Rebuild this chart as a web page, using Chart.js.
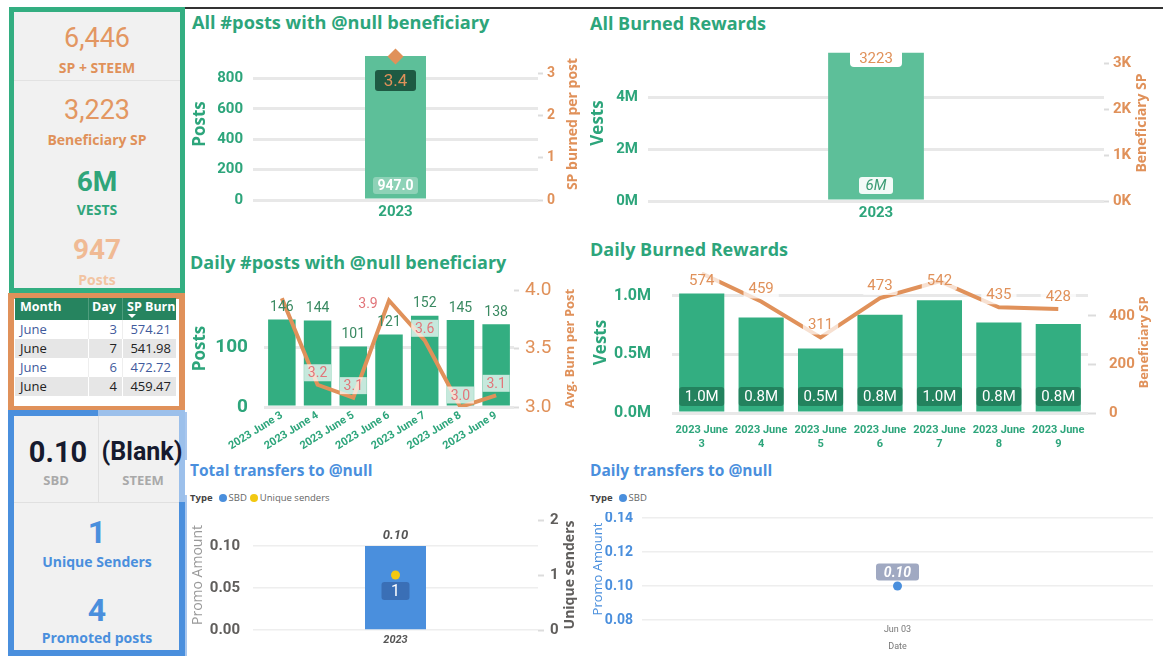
<!DOCTYPE html>
<html>
<head>
<meta charset="utf-8">
<script src="https://cdn.jsdelivr.net/npm/chart.js@4.4.1/dist/chart.umd.min.js"></script>
<style>
  body { margin: 0; width: 1163px; height: 668px; background: #fff; position: relative; overflow: hidden; font-family: "Open Sans", sans-serif; }
  .abs { position: absolute; }
  .title { position: absolute; font-weight: 700; white-space: nowrap; line-height: 24px; height: 24px; }
  .t { position: absolute; left: 14px; width: 166px; text-align: center; white-space: nowrap; }
  .num { font-family: Roboto, sans-serif; line-height: 32px; height: 32px; }
  .lab { font-weight: 700; font-size: 14px; line-height: 18px; height: 18px; }
  .cv { position: absolute; }
  .legend { position: absolute; font-size: 9.5px; color: #666; display: flex; align-items: center; line-height: 12px; }
  .legend b { color: #444; margin-right: 6px; }
  .dot { display: inline-block; width: 8px; height: 8px; border-radius: 50%; margin-right: 2px; }
  .row { position: absolute; left: 15px; width: 161px; height: 19px; font-size: 13px; line-height: 19px; }
  .row span, .hdr span { position: absolute; }
</style>
</head>
<body>
<div class="abs" style="left:185px;top:7px;width:978px;height:1.5px;background:#333"></div>
<div class="abs" style="left:185px;top:412px;width:2px;height:48px;background:#a9c7ee"></div>
<div class="abs" style="left:185px;top:495px;width:2px;height:161px;background:#a9c7ee"></div>

<!-- green KPI panel -->
<div class="abs" style="left:9px;top:7px;width:176px;height:286px;box-sizing:border-box;border:5px solid #33AE81;background:#f1f1f1"></div>
<div class="t num" style="top:22px;font-size:27px;color:#E39762">6,446</div>
<div class="t lab" style="top:59px;color:#E0915A">SP + STEEM</div>
<div class="abs" style="left:14px;top:80px;width:166px;height:1px;background:#e2e2e2"></div>
<div class="t num" style="top:94px;font-size:27px;color:#E39762">3,223</div>
<div class="t lab" style="top:131px;color:#E0915A">Beneficiary SP</div>
<div class="t num" style="top:166px;font-size:28px;font-weight:700;color:#2FA57A">6M</div>
<div class="t lab" style="top:201px;color:#2FA57A">VESTS</div>
<div class="t num" style="top:234px;font-size:28px;font-weight:700;color:#F0BA94">947</div>
<div class="t lab" style="top:271px;color:#F2C4A2">Posts</div>

<!-- orange table panel -->
<div class="abs" style="left:8px;top:293px;width:177px;height:119px;box-sizing:border-box;border:6px solid #E0915A;background:#fff"></div>
<div class="abs hdr" style="left:15px;top:298px;width:161px;height:22px;background:#26845F;color:#fff;font-weight:700;font-size:12.5px;line-height:18px">
  <span style="left:5px">Month</span>
  <span style="right:60px">Day</span>
  <span style="left:112px">SP Burn</span>
  <span style="left:73px;top:0;width:1px;height:22px;background:#4f9d7d"></span>
  <span style="left:107px;top:0;width:1px;height:22px;background:#4f9d7d"></span>
  <span style="left:113px;top:16px;width:0;height:0;border-left:4px solid transparent;border-right:4px solid transparent;border-top:4px solid #fff"></span>
</div>
<div id="tbl"></div>

<!-- blue transfer panel -->
<div class="abs" style="left:8px;top:410px;width:177px;height:246px;box-sizing:border-box;border:6px solid #4A8FDD;background:#f1f1f1"></div>
<div class="abs" style="left:98px;top:410px;width:87px;height:6px;background:#9CC0EB"></div>
<div class="abs" style="left:179px;top:416px;width:6px;height:86px;background:#9CC0EB"></div>
<div class="abs" style="left:98px;top:416px;width:1px;height:86px;background:#e0e0e0"></div>
<div class="abs" style="left:14px;top:502px;width:165px;height:1px;background:#e0e0e0"></div>
<div class="abs num" style="left:18px;width:80px;text-align:center;top:436px;font-size:29px;font-weight:700;color:#161A2E">0.10</div>
<div class="abs lab" style="left:14px;width:84px;text-align:center;top:471px;font-size:13px;color:#A9A9A9">SBD</div>
<div class="abs num" style="left:101px;width:82px;text-align:center;top:436px;font-size:25px;font-weight:700;color:#161A2E;white-space:nowrap">(Blank)</div>
<div class="abs lab" style="left:99px;width:88px;text-align:center;top:471px;font-size:13px;color:#A9A9A9">STEEM</div>
<div class="t num" style="top:515px;font-size:32px;height:34px;line-height:34px;font-weight:700;color:#4A8FDD">1</div>
<div class="t lab" style="top:553px;color:#4A8FDD">Unique Senders</div>
<div class="t num" style="top:593px;font-size:32px;height:34px;line-height:34px;font-weight:700;color:#4A8FDD">4</div>
<div class="t lab" style="top:629px;color:#4A8FDD">Promoted posts</div>

<!-- chart titles -->
<div class="title" style="left:192px;top:10px;font-size:18.2px;color:#2DA57B">All #posts with @null beneficiary</div>
<div class="title" style="left:590px;top:11px;font-size:18px;color:#2DA57B">All Burned Rewards</div>
<div class="title" style="left:190px;top:250px;font-size:18px;color:#2DA57B">Daily #posts with @null beneficiary</div>
<div class="title" style="left:590px;top:237px;font-size:18px;color:#2DA57B">Daily Burned Rewards</div>
<div class="title" style="left:190px;top:458px;font-size:15.5px;color:#4A8FDD">Total transfers to @null</div>
<div class="title" style="left:590px;top:458px;font-size:15.5px;color:#4A8FDD">Daily transfers to @null</div>

<div class="legend" style="left:190px;top:492px"><b>Type</b><span class="dot" style="background:#4A8FDD"></span>SBD<span class="dot" style="background:#F2C811;margin-left:3px"></span>Unique senders</div>
<div class="legend" style="left:590px;top:492px"><b>Type</b><span class="dot" style="background:#4A8FDD"></span>SBD</div>

<div class="cv" style="left:190px;top:40px;width:395px;height:190px"><canvas id="c1"></canvas></div>
<div class="cv" style="left:588px;top:40px;width:575px;height:190px"><canvas id="c2"></canvas></div>
<div class="cv" style="left:190px;top:282px;width:395px;height:180px"><canvas id="c3"></canvas></div>
<div class="cv" style="left:588px;top:262px;width:575px;height:198px"><canvas id="c4"></canvas></div>
<div class="cv" style="left:190px;top:512px;width:395px;height:145px"><canvas id="c5"></canvas></div>
<div class="cv" style="left:588px;top:512px;width:575px;height:140px"><canvas id="c6"></canvas></div>

<script>
// totals
const years = ["2023"];
const totalPosts = [947];
const totalBurnPerPost = [3.4];
const totalVests = [5.7e6];
const totalSP = [3223];

// daily
const days = [3, 4, 5, 6, 7, 8, 9];
const dailyPosts = [146, 144, 101, 121, 152, 145, 138];
const dailyAvgBurn = [3.93, 3.19, 3.08, 3.91, 3.57, 3.0, 3.1];
const dailyVests = [1.016e6, 0.812e6, 0.549e6, 0.837e6, 0.959e6, 0.77e6, 0.757e6];
const dailySP = [574, 459, 311, 473, 542, 435, 428];

// transfers
const promoSBD = [0.1];
const uniqueSenders = [1];
const transferDates = ["Jun 03"];
const dailyPromoSBD = [0.1];

// top days table
const tableMonth = ["June", "June", "June", "June"];
const tableDay = [3, 7, 6, 4];
const tableBurn = [574.21, 541.98, 472.72, 459.47];

// axis ticks
const postsTicks = [0, 200, 400, 600, 800];
const burnTicks = [0, 1, 2, 3];
const vestsTicks = [0, 2e6, 4e6];
const spTicks = [0, 1000, 2000, 3000];
const dailyPostsTicks = [0, 100];
const avgBurnTicks = [3, 3.5, 4];
const dailyVestsTicks = [0, 5e5, 1e6];
const dailySPTicks = [0, 200, 400];
const promoTicks = [0, 0.05, 0.1];
const senderTicks = [0, 1, 2];
const dailyPromoTicks = [0.08, 0.1, 0.12, 0.14];

const GREEN = "#33AE81";
const LIGHT = "#5DBF99";
const GTEXT = "#2DA57B";
const ORANGE = "#E0915A";
const BLUE = "#4A8FDD";
const GRID = "#e8e8e8";

// table rows
let html = "";
tableMonth.forEach((m, i) => {
  const odd = i % 2 === 0;
  html += `<div class="row" style="top:${320 + i * 19}px;background:${odd ? "#fff" : "#e6e6e6"};color:${odd ? "#3F5A9C" : "#222"}">
    <span style="left:5px">${m}</span><span style="right:59px">${tableDay[i]}</span><span style="right:5px">${tableBurn[i].toFixed(2)}</span>
    <span style="left:73px;top:0;width:1px;height:19px;background:${odd ? "#eee" : "#fff"}"></span>
    <span style="left:107px;top:0;width:1px;height:19px;background:${odd ? "#eee" : "#fff"}"></span></div>`;
});
document.getElementById("tbl").innerHTML = html;

Chart.defaults.font.family = "Roboto";

// draws value labels described by dataset.lbl
const valueLabels = {
  id: "valueLabels",
  afterDatasetsDraw(chart) {
    const ctx = chart.ctx;
    const area = chart.chartArea;
    chart.data.datasets.forEach((ds, di) => {
      const L = ds.lbl;
      if (!L) return;
      chart.getDatasetMeta(di).data.forEach((el, i) => {
        if (L.skip && L.skip.includes(i)) return;
        const text = L.fmt(ds.data[i]);
        ctx.save();
        ctx.font = L.font;
        let x = el.x;
        let y = (L.at === "base" ? el.base : el.y) + L.dy;
        if (L.minTop != null) y = Math.max(y, area.top + L.minTop);
        const sh = L.shift && L.shift[i];
        if (sh) { x += sh[0]; y += sh[1]; }
        if (L.bg) {
          const w = L.w === "bar" ? el.width : (L.w || ctx.measureText(text).width + 10);
          ctx.fillStyle = L.bg;
          ctx.beginPath();
          ctx.roundRect(x - w / 2, y - L.h / 2, w, L.h, L.r || 0);
          ctx.fill();
        }
        ctx.fillStyle = L.color;
        ctx.textAlign = "center";
        ctx.textBaseline = "middle";
        ctx.fillText(text, x, y + 1);
        ctx.restore();
      });
    });
  }
};

// right-hand axis title, read bottom to top
const sideTitle = {
  id: "sideTitle",
  afterDraw(chart, args, o) {
    if (!o.text) return;
    const ctx = chart.ctx;
    const a = chart.chartArea;
    ctx.save();
    ctx.translate(chart.width - o.right, (a.top + a.bottom) / 2);
    ctx.rotate(-Math.PI / 2);
    ctx.font = o.font;
    ctx.fillStyle = o.color;
    ctx.textAlign = "center";
    ctx.textBaseline = "middle";
    ctx.fillText(o.text, 0, 0);
    ctx.restore();
  }
};

function base(padTop, padRight, side) {
  return {
    responsive: true,
    maintainAspectRatio: false,
    animation: false,
    layout: { padding: { top: padTop, right: padRight || 0, left: 0, bottom: 0 } },
    plugins: { legend: { display: false }, tooltip: { enabled: false }, sideTitle: side || {} }
  };
}
const axTitle = (text, color, size, pad, weight) => ({
  display: true, text, color,
  font: { family: "Open Sans", size, weight: weight || "bold" },
  padding: { top: pad, bottom: 0 }
});
const setTicks = (vals) => (s) => { s.ticks = vals.map((value) => ({ value })); };
const fixW = (w) => (s) => { s.width = w; s.paddingTop = 0; s.paddingBottom = 0; };
const fixH = (h) => (s) => { s.height = h; s.paddingLeft = 0; s.paddingRight = 0; };
const rightGrid = (len) => ({ drawOnChartArea: false, tickLength: len, tickWidth: 2, tickColor: "#dcdcdc" });
const noGrid = { display: false, drawTicks: false };

// All #posts
new Chart(document.getElementById("c1"), {
  data: {
    labels: years,
    datasets: [
      { type: "line", data: totalBurnPerPost, yAxisID: "y1", showLine: false, pointStyle: "rectRot",
        pointRadius: 8, pointBackgroundColor: ORANGE, pointBorderWidth: 0, order: 0,
        lbl: { at: "top", dy: 24, bg: "#1E5A43", color: ORANGE, font: "17px Roboto", w: 41, h: 21, r: 3, fmt: (v) => v.toFixed(1) } },
      { type: "bar", data: totalPosts, yAxisID: "y", backgroundColor: LIGHT, categoryPercentage: 1, barPercentage: 0.214, order: 1,
        lbl: { at: "base", dy: -13, bg: "rgba(255,255,255,0.3)", color: "#fff", font: "bold 14px Roboto", w: 45, h: 17, r: 3, fmt: (v) => v.toFixed(1) } }
    ]
  },
  options: {
    ...base(5, 0, { text: "SP burned per post", color: ORANGE, font: "bold 14px 'Open Sans'", right: 12 }),
    scales: {
      x: { grid: noGrid, border: { display: false },
        ticks: { color: GTEXT, font: { size: 15, weight: "bold" }, padding: 3 }, afterFit: fixH(30) },
      y: { position: "left", min: 0, max: 1000, border: { display: false },
        grid: { color: GRID, lineWidth: 3, drawTicks: false },
        ticks: { padding: 10, color: GTEXT, font: { size: 15, weight: "bold" } },
        afterBuildTicks: setTicks(postsTicks),
        title: axTitle("Posts", GTEXT, 17, 0), afterFit: fixW(63) },
      y1: { position: "right", min: 0, max: 3.6, border: { display: false },
        grid: rightGrid(5),
        ticks: { padding: 4, color: ORANGE, font: { size: 14, weight: "bold" } },
        afterBuildTicks: setTicks(burnTicks), afterFit: fixW(47) }
    }
  },
  plugins: [valueLabels, sideTitle]
});

// All Burned Rewards
new Chart(document.getElementById("c2"), {
  data: {
    labels: years,
    datasets: [
      { type: "line", data: totalSP, yAxisID: "y1", pointRadius: 0, showLine: false, order: 0,
        lbl: { at: "top", dy: 5, bg: "#fff", color: ORANGE, font: "15px Roboto", w: 52, h: 18, r: 4, fmt: (v) => String(v) } },
      { type: "bar", data: totalVests, yAxisID: "y", backgroundColor: LIGHT, categoryPercentage: 1, barPercentage: 0.21, order: 1,
        lbl: { at: "base", dy: -14, bg: "rgba(255,255,255,0.92)", color: "#3B9C74", font: "italic 15px Roboto", w: 34, h: 17, r: 3, fmt: (v) => Math.round(v / 1e6) + "M" } }
    ]
  },
  options: {
    ...base(5, 0, { text: "Beneficiary SP", color: ORANGE, font: "bold 14px 'Open Sans'", right: 21 }),
    scales: {
      x: { grid: noGrid, border: { display: false },
        ticks: { color: GTEXT, font: { size: 15, weight: "bold" }, padding: 3 }, afterFit: fixH(29) },
      y: { position: "left", min: 0, max: 6e6, border: { display: false },
        grid: { color: GRID, lineWidth: 3, drawTicks: false },
        ticks: { padding: 10, color: GTEXT, font: { size: 15, weight: "bold" }, callback: (v) => v / 1e6 + "M" },
        afterBuildTicks: setTicks(vestsTicks),
        title: axTitle("Vests", GTEXT, 17, 0), afterFit: fixW(60) },
      y1: { position: "right", min: 0, max: 3400, border: { display: false },
        grid: rightGrid(5),
        ticks: { padding: 4, color: ORANGE, font: { size: 15, weight: "bold" }, callback: (v) => v / 1000 + "K" },
        afterBuildTicks: setTicks(spTicks), afterFit: fixW(59) }
    }
  },
  plugins: [valueLabels, sideTitle]
});

// Daily #posts
new Chart(document.getElementById("c3"), {
  data: {
    labels: days.map((d) => "2023 June " + d),
    datasets: [
      { type: "line", data: dailyAvgBurn, yAxisID: "y1", borderColor: ORANGE, borderWidth: 4, pointRadius: 0, tension: 0, order: 0,
        lbl: { at: "top", dy: -12, bg: "rgba(255,255,255,0.72)", color: "#E2757A", font: "14px Roboto", w: 27, h: 17, r: 0,
          skip: [0], shift: { 3: [-21, 15] }, fmt: (v) => v.toFixed(1) } },
      { type: "bar", data: dailyPosts, yAxisID: "y", backgroundColor: GREEN, categoryPercentage: 1, barPercentage: 0.77, order: 1,
        lbl: { at: "top", dy: -13, color: "#3A8A62", font: "14px Roboto", fmt: (v) => String(v) } }
    ]
  },
  options: {
    ...base(8, 0, { text: "Avg. Burn per Post", color: ORANGE, font: "bold 13px 'Open Sans'", right: 15 }),
    scales: {
      x: { grid: noGrid, border: { display: false },
        ticks: { color: GTEXT, font: { size: 11, weight: "bold" }, minRotation: 32, maxRotation: 32, autoSkip: false, padding: 2 },
        afterFit: fixH(55) },
      y: { position: "left", min: 0, max: 195, border: { display: false },
        grid: { color: GRID, lineWidth: 3, drawTicks: false },
        ticks: { padding: 16, color: GTEXT, font: { size: 19, weight: "bold" } },
        afterBuildTicks: setTicks(dailyPostsTicks),
        title: axTitle("Posts", GTEXT, 17, 0), afterFit: fixW(74) },
      y1: { position: "right", min: 3, max: 4, border: { display: false },
        grid: rightGrid(5),
        ticks: { padding: 6, color: ORANGE, font: { size: 19 }, callback: (v) => v.toFixed(1) },
        afterBuildTicks: setTicks(avgBurnTicks), afterFit: fixW(71) }
    }
  },
  plugins: [valueLabels, sideTitle]
});

// Daily Burned Rewards
new Chart(document.getElementById("c4"), {
  data: {
    labels: days.map((d) => ["2023 June", String(d)]),
    datasets: [
      { type: "line", data: dailySP, yAxisID: "y1", borderColor: ORANGE, borderWidth: 4, pointRadius: 0, tension: 0, order: 0,
        lbl: { at: "top", dy: -13, minTop: 8, bg: "rgba(255,255,255,0.72)", color: ORANGE, font: "15px Roboto", h: 20, r: 2, fmt: (v) => String(v) } },
      { type: "bar", data: dailyVests, yAxisID: "y", backgroundColor: GREEN, categoryPercentage: 1, barPercentage: 0.76, order: 1,
        lbl: { at: "base", dy: -15, bg: "rgba(15,70,45,0.42)", color: "#fff", font: "15px Roboto", w: "bar", h: 19, r: 3,
          fmt: (v) => (v / 1e6).toFixed(1) + "M" } }
    ]
  },
  options: {
    ...base(10, 0, { text: "Beneficiary SP", color: ORANGE, font: "bold 13px 'Open Sans'", right: 19 }),
    scales: {
      x: { grid: noGrid, border: { display: false },
        ticks: { color: GTEXT, font: { size: 11, weight: "bold", lineHeight: 1.3 }, maxRotation: 0, autoSkip: false, padding: 10 },
        afterFit: fixH(47) },
      y: { position: "left", min: 0, max: 1.2e6, border: { display: false },
        grid: { color: GRID, lineWidth: 3, drawTicks: false },
        ticks: { padding: 21, color: GTEXT, font: { size: 16, weight: "bold" }, callback: (v) => (v / 1e6).toFixed(1) + "M" },
        afterBuildTicks: setTicks(dailyVestsTicks),
        title: axTitle("Vests", GTEXT, 17, 3), afterFit: fixW(84) },
      y1: { position: "right", min: 0, max: 580, border: { display: false },
        grid: rightGrid(8),
        ticks: { padding: 13, color: ORANGE, font: { size: 15, weight: "bold" } },
        afterBuildTicks: setTicks(dailySPTicks), afterFit: fixW(75) }
    }
  },
  plugins: [valueLabels, sideTitle]
});

// Total transfers
new Chart(document.getElementById("c5"), {
  data: {
    labels: years,
    datasets: [
      { type: "line", data: uniqueSenders, yAxisID: "y1", showLine: false, pointRadius: 4.5, pointBackgroundColor: "#F2C811", pointBorderWidth: 0, order: 0,
        lbl: { at: "top", dy: 16, bg: "rgba(25,45,100,0.32)", color: "#fff", font: "16px Roboto", w: 28, h: 18, r: 3, fmt: (v) => String(v) } },
      { type: "bar", data: promoSBD, yAxisID: "y", backgroundColor: BLUE, categoryPercentage: 1, barPercentage: 0.214, order: 1,
        lbl: { at: "top", dy: -11, color: "#555", font: "italic bold 13px Roboto", fmt: (v) => v.toFixed(2) } }
    ]
  },
  options: {
    ...base(8, 0, { text: "Unique senders", color: "#605E5C", font: "bold 14px 'Open Sans'", right: 15 }),
    scales: {
      x: { grid: noGrid, border: { display: false },
        ticks: { color: "#555", font: { size: 11, weight: "bold", style: "italic" }, padding: 4 }, afterFit: fixH(27) },
      y: { position: "left", min: 0, max: 0.131, border: { display: false },
        grid: { color: "#eeeeee", lineWidth: 1.5, drawTicks: false },
        ticks: { padding: 13, color: "#605E5C", font: { size: 15, weight: "bold" }, callback: (v) => v.toFixed(2) },
        afterBuildTicks: setTicks(promoTicks),
        title: axTitle("Promo Amount", "#999", 14, 0, "normal"), afterFit: fixW(63) },
      y1: { position: "right", min: 0, max: 2, border: { display: false },
        grid: rightGrid(6),
        ticks: { padding: 6, color: "#605E5C", font: { size: 15, weight: "bold" } },
        afterBuildTicks: setTicks(senderTicks), afterFit: fixW(47) }
    }
  },
  plugins: [valueLabels, sideTitle]
});

// Daily transfers
new Chart(document.getElementById("c6"), {
  type: "line",
  data: {
    labels: transferDates,
    datasets: [
      { data: dailyPromoSBD, pointRadius: 4.5, pointBackgroundColor: BLUE, pointBorderWidth: 0, showLine: false,
        lbl: { at: "top", dy: -14, bg: "#A0A9C2", color: "#fff", font: "italic bold 14px Roboto", w: 43, h: 17, r: 3, fmt: (v) => v.toFixed(2) } }
    ]
  },
  options: {
    ...base(6, 10),
    scales: {
      x: { offset: true, grid: noGrid, border: { display: false },
        ticks: { color: "#777", font: { size: 9 }, padding: 4 },
        title: { display: true, text: "Date", color: "#777", font: { size: 9 }, padding: { top: 0, bottom: 0 } },
        afterFit: fixH(32) },
      y: { min: 0.08, max: 0.14, border: { display: false },
        grid: { color: "#eeeeee", lineWidth: 1.5, drawTicks: false },
        ticks: { padding: 9, color: BLUE, font: { size: 14, weight: "bold" }, callback: (v) => v.toFixed(2) },
        afterBuildTicks: setTicks(dailyPromoTicks),
        title: axTitle("Promo Amount", BLUE, 13, 2, "normal"), afterFit: fixW(54) }
    }
  },
  plugins: [valueLabels]
});
</script>
</body>
</html>
